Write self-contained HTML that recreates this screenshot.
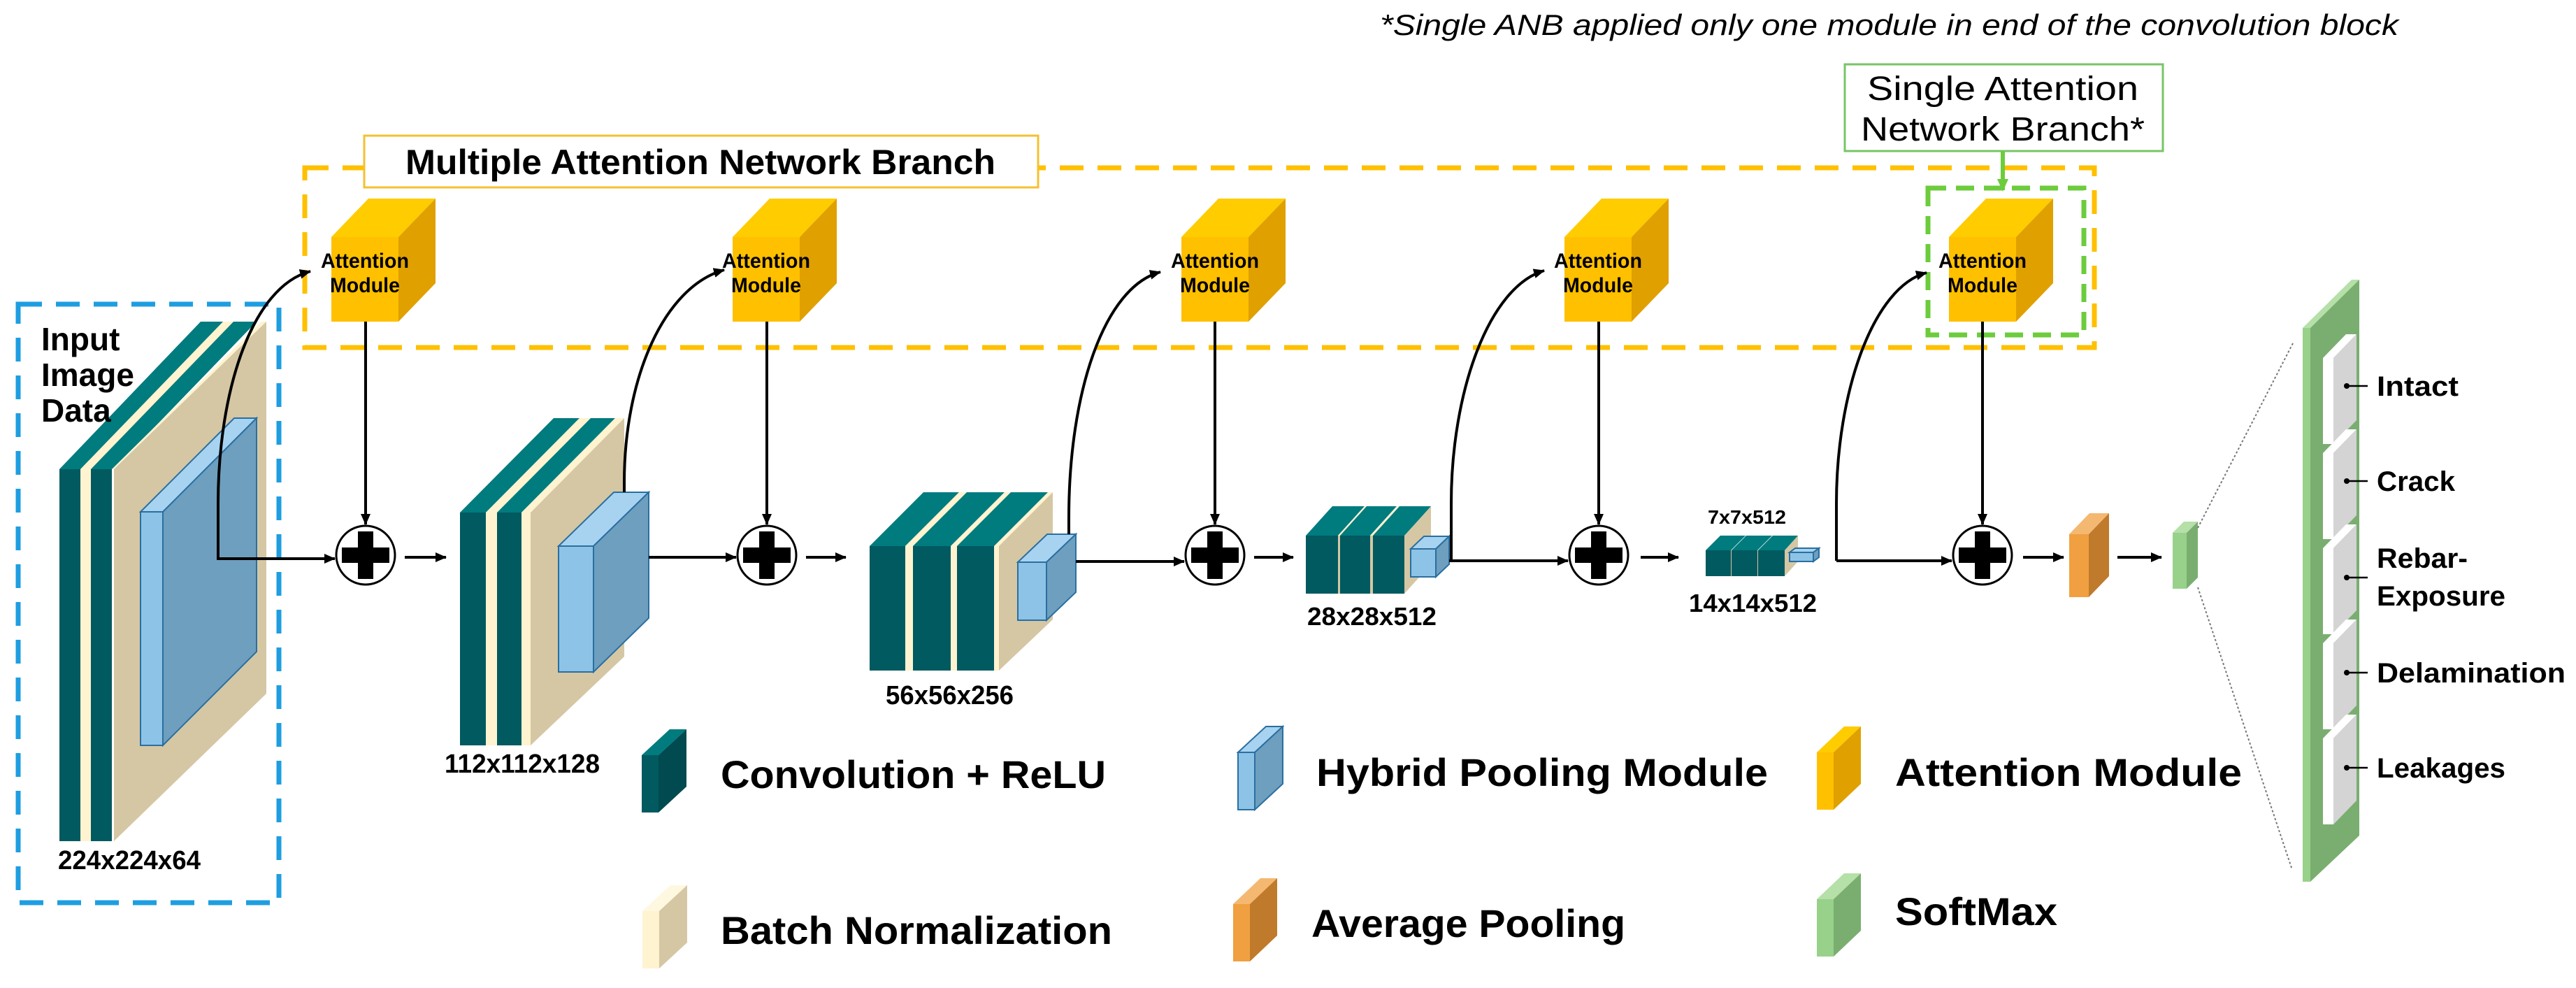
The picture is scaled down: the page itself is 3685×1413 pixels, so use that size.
<!DOCTYPE html>
<html><head><meta charset="utf-8"><style>
html,body{margin:0;padding:0;background:#fff;}
svg{display:block;}
text{font-family:"Liberation Sans",sans-serif;fill:#000;}
</style></head><body>
<svg width="3685" height="1413" viewBox="0 0 3685 1413" xmlns="http://www.w3.org/2000/svg">
<defs>
<marker id="ah2" markerWidth="16" markerHeight="14" refX="15" refY="7" orient="auto" markerUnits="userSpaceOnUse">
<path d="M0,0 L16,7 L0,14 z" fill="#000"/></marker>
<marker id="ahg" markerWidth="18" markerHeight="16" refX="16" refY="8" orient="auto" markerUnits="userSpaceOnUse">
<path d="M0,0 L18,8 L0,16 z" fill="#6ccc3c"/></marker>
</defs>

<text x="1974" y="50" font-size="42" font-style="italic" textLength="1457" lengthAdjust="spacingAndGlyphs">*Single ANB applied only one module in end of the convolution block</text>

<rect x="436" y="240" width="2560" height="257" fill="none" stroke="#ffc000" stroke-width="7" stroke-dasharray="34,20"/>
<rect x="521" y="194" width="964" height="74" fill="#fff" stroke="#f5c030" stroke-width="3"/>
<text x="580" y="249" font-size="50" font-weight="bold" textLength="844" lengthAdjust="spacingAndGlyphs">Multiple Attention Network Branch</text>

<rect x="2758" y="269" width="223" height="210" fill="none" stroke="#6ccc3c" stroke-width="7" stroke-dasharray="26,14"/>
<rect x="2639" y="92" width="455" height="124" fill="#fff" stroke="#77c566" stroke-width="3"/>
<text x="2671" y="143" font-size="48" textLength="388" lengthAdjust="spacingAndGlyphs">Single Attention</text>
<text x="2662" y="201" font-size="48" textLength="406" lengthAdjust="spacingAndGlyphs">Network Branch*</text>
<line x1="2865" y1="216" x2="2865" y2="272" stroke="#6ccc3c" stroke-width="6" marker-end="url(#ahg)"/>

<rect x="26" y="435" width="373" height="856" fill="none" stroke="#1e9ee0" stroke-width="7" stroke-dasharray="34,20"/>

<g>
<g transform="translate(474,0)">
<polygon points="0,339 96,339 149,284 53,284" fill="#ffcc00"/>
<polygon points="96,339 149,284 149,405 96,460" fill="#e0a000"/>
<rect x="0" y="339" width="96" height="121" fill="#ffc000"/>
<text x="48" y="383" font-size="30" font-weight="bold" text-anchor="middle" textLength="126" lengthAdjust="spacingAndGlyphs">Attention</text>
<text x="48" y="418" font-size="30" font-weight="bold" text-anchor="middle" textLength="100" lengthAdjust="spacingAndGlyphs">Module</text>
</g>
<g transform="translate(1048,0)">
<polygon points="0,339 96,339 149,284 53,284" fill="#ffcc00"/>
<polygon points="96,339 149,284 149,405 96,460" fill="#e0a000"/>
<rect x="0" y="339" width="96" height="121" fill="#ffc000"/>
<text x="48" y="383" font-size="30" font-weight="bold" text-anchor="middle" textLength="126" lengthAdjust="spacingAndGlyphs">Attention</text>
<text x="48" y="418" font-size="30" font-weight="bold" text-anchor="middle" textLength="100" lengthAdjust="spacingAndGlyphs">Module</text>
</g>
<g transform="translate(1690,0)">
<polygon points="0,339 96,339 149,284 53,284" fill="#ffcc00"/>
<polygon points="96,339 149,284 149,405 96,460" fill="#e0a000"/>
<rect x="0" y="339" width="96" height="121" fill="#ffc000"/>
<text x="48" y="383" font-size="30" font-weight="bold" text-anchor="middle" textLength="126" lengthAdjust="spacingAndGlyphs">Attention</text>
<text x="48" y="418" font-size="30" font-weight="bold" text-anchor="middle" textLength="100" lengthAdjust="spacingAndGlyphs">Module</text>
</g>
<g transform="translate(2238,0)">
<polygon points="0,339 96,339 149,284 53,284" fill="#ffcc00"/>
<polygon points="96,339 149,284 149,405 96,460" fill="#e0a000"/>
<rect x="0" y="339" width="96" height="121" fill="#ffc000"/>
<text x="48" y="383" font-size="30" font-weight="bold" text-anchor="middle" textLength="126" lengthAdjust="spacingAndGlyphs">Attention</text>
<text x="48" y="418" font-size="30" font-weight="bold" text-anchor="middle" textLength="100" lengthAdjust="spacingAndGlyphs">Module</text>
</g>
<g transform="translate(2788,0)">
<polygon points="0,339 96,339 149,284 53,284" fill="#ffcc00"/>
<polygon points="96,339 149,284 149,405 96,460" fill="#e0a000"/>
<rect x="0" y="339" width="96" height="121" fill="#ffc000"/>
<text x="48" y="383" font-size="30" font-weight="bold" text-anchor="middle" textLength="126" lengthAdjust="spacingAndGlyphs">Attention</text>
<text x="48" y="418" font-size="30" font-weight="bold" text-anchor="middle" textLength="100" lengthAdjust="spacingAndGlyphs">Module</text>
</g>
</g>

<g stroke="#000" stroke-width="4" fill="none" marker-end="url(#ah2)">
<line x1="523" y1="460" x2="523" y2="750"/>
<line x1="1097" y1="460" x2="1097" y2="750"/>
<line x1="1738" y1="460" x2="1738" y2="750"/>
<line x1="2287" y1="460" x2="2287" y2="750"/>
<line x1="2836" y1="460" x2="2836" y2="750"/>
</g>

<g>
<g transform="translate(523,794)"><circle r="42" fill="#fff" stroke="#000" stroke-width="3"/><rect x="-34" y="-11" width="68" height="22"/><rect x="-11" y="-34" width="22" height="68"/></g>
<g transform="translate(1097,794)"><circle r="42" fill="#fff" stroke="#000" stroke-width="3"/><rect x="-34" y="-11" width="68" height="22"/><rect x="-11" y="-34" width="22" height="68"/></g>
<g transform="translate(1738,794)"><circle r="42" fill="#fff" stroke="#000" stroke-width="3"/><rect x="-34" y="-11" width="68" height="22"/><rect x="-11" y="-34" width="22" height="68"/></g>
<g transform="translate(2287,794)"><circle r="42" fill="#fff" stroke="#000" stroke-width="3"/><rect x="-34" y="-11" width="68" height="22"/><rect x="-11" y="-34" width="22" height="68"/></g>
<g transform="translate(2836,794)"><circle r="42" fill="#fff" stroke="#000" stroke-width="3"/><rect x="-34" y="-11" width="68" height="22"/><rect x="-11" y="-34" width="22" height="68"/></g>
</g>

<g>
<polygon points="85,671 118,671 320,460 287,460" fill="#007b7e"/>
<rect x="85" y="671" width="30" height="532" fill="#005a60"/>
<polygon points="115,671 130,671 334,460 319,460" fill="#fff3d0"/>
<rect x="115" y="671" width="15" height="532" fill="#fff3d0"/>
<polygon points="130,671 163,671 367,460 334,460" fill="#007b7e"/>
<rect x="130" y="671" width="30" height="532" fill="#005a60"/>
<polygon points="160,671 168,671 381,460 374,460" fill="#fff3d0"/>
<polygon points="163,671 381,460 381,992 163,1203" fill="#d5c7a4"/>
<polygon points="201,732 233,732 367,598 335,598" fill="#a8d3f0" stroke="#2a6fa0" stroke-width="2"/>
<polygon points="233,732 367,598 367,932 233,1066" fill="#6e9fbf" stroke="#2a6fa0" stroke-width="2"/>
<rect x="201" y="732" width="32" height="334" fill="#8dc3e6" stroke="#2a6fa0" stroke-width="2"/>
</g>
<text x="59" y="501" font-size="46" font-weight="bold">Input</text>
<text x="59" y="552" font-size="46" font-weight="bold">Image</text>
<text x="59" y="603" font-size="46" font-weight="bold">Data</text>
<text x="83" y="1243" font-size="38" font-weight="bold" textLength="204" lengthAdjust="spacingAndGlyphs">224x224x64</text>

<g>
<polygon points="658,733 695,733 829,598 792,598" fill="#007b7e"/>
<rect x="658" y="733" width="37" height="333" fill="#005a60"/>
<polygon points="695,733 711,733 845,598 829,598" fill="#fff3d0"/>
<rect x="695" y="733" width="16" height="333" fill="#fff3d0"/>
<polygon points="711,733 746,733 880,598 845,598" fill="#007b7e"/>
<rect x="711" y="733" width="35" height="333" fill="#005a60"/>
<polygon points="746,733 759,733 893,598 880,598" fill="#fff3d0"/>
<rect x="746" y="733" width="13" height="333" fill="#fff3d0"/>
<polygon points="759,733 893,598 893,939 759,1066" fill="#d5c7a4"/>
<polygon points="799,781 849,781 928,704 878,704" fill="#a8d3f0" stroke="#2a6fa0" stroke-width="2"/>
<polygon points="849,781 928,704 928,884 849,961" fill="#6e9fbf" stroke="#2a6fa0" stroke-width="2"/>
<rect x="799" y="781" width="50" height="180" fill="#8dc3e6" stroke="#2a6fa0" stroke-width="2"/>
</g>
<text x="636" y="1105" font-size="38" font-weight="bold" textLength="222" lengthAdjust="spacingAndGlyphs">112x112x128</text>

<g>
<polygon points="1422,781 1429,781 1506,704 1499,704" fill="#fff3d0"/>
<polygon points="1429,781 1506,704 1506,886 1429,959" fill="#d5c7a4"/>
<rect x="1422" y="781" width="7" height="178" fill="#fff3d0"/>
<polygon points="1244,781 1295,781 1372,704 1321,704" fill="#007b7e"/>
<polygon points="1295,781 1306,781 1383,704 1372,704" fill="#fff3d0"/>
<polygon points="1306,781 1360,781 1437,704 1383,704" fill="#007b7e"/>
<polygon points="1360,781 1369,781 1446,704 1437,704" fill="#fff3d0"/>
<polygon points="1369,781 1422,781 1499,704 1446,704" fill="#007b7e"/>
<rect x="1244" y="781" width="51" height="178" fill="#005a60"/>
<rect x="1295" y="781" width="11" height="178" fill="#fff3d0"/>
<rect x="1306" y="781" width="54" height="178" fill="#005a60"/>
<rect x="1360" y="781" width="9" height="178" fill="#fff3d0"/>
<rect x="1369" y="781" width="53" height="178" fill="#005a60"/>
<polygon points="1456,804 1497,804 1539,764 1498,764" fill="#a8d3f0" stroke="#2a6fa0" stroke-width="2"/>
<polygon points="1497,804 1539,764 1539,847 1497,887" fill="#6e9fbf" stroke="#2a6fa0" stroke-width="2"/>
<rect x="1456" y="804" width="41" height="83" fill="#8dc3e6" stroke="#2a6fa0" stroke-width="2"/>
</g>
<text x="1267" y="1007" font-size="38" font-weight="bold" textLength="183" lengthAdjust="spacingAndGlyphs">56x56x256</text>

<g>
<polygon points="2009,766 2047,724 2047,807 2009,849" fill="#d5c7a4"/>
<polygon points="1868,766 1914,766 1952,724 1906,724" fill="#007b7e"/>
<polygon points="1914,766 1917,766 1955,724 1952,724" fill="#fff3d0"/>
<polygon points="1917,766 1960,766 1998,724 1955,724" fill="#007b7e"/>
<polygon points="1960,766 1964,766 2002,724 1998,724" fill="#fff3d0"/>
<polygon points="1964,766 2009,766 2047,724 2002,724" fill="#007b7e"/>
<rect x="1868" y="766" width="46" height="83" fill="#005a60"/>
<rect x="1914" y="766" width="3" height="83" fill="#d5c7a4"/>
<rect x="1917" y="766" width="43" height="83" fill="#005a60"/>
<rect x="1960" y="766" width="4" height="83" fill="#d5c7a4"/>
<rect x="1964" y="766" width="45" height="83" fill="#005a60"/>
<polygon points="2018,785 2054,785 2073,767 2037,767" fill="#a8d3f0" stroke="#2a6fa0" stroke-width="2"/>
<polygon points="2054,785 2073,767 2073,807 2054,825" fill="#6e9fbf" stroke="#2a6fa0" stroke-width="2"/>
<rect x="2018" y="785" width="36" height="40" fill="#8dc3e6" stroke="#2a6fa0" stroke-width="2"/>
</g>
<text x="1870" y="894" font-size="36" font-weight="bold" textLength="185" lengthAdjust="spacingAndGlyphs">28x28x512</text>

<g>
<polygon points="2553,787 2572,766 2572,803 2553,824" fill="#d5c7a4"/>
<polygon points="2440,787 2476,787 2497,766 2461,766" fill="#007b7e"/>
<polygon points="2477,787 2514,787 2535,766 2498,766" fill="#007b7e"/>
<polygon points="2515,787 2553,787 2572,766 2536,766" fill="#007b7e"/>
<rect x="2440" y="787" width="113" height="37" fill="#d5c7a4"/>
<rect x="2440" y="787" width="36" height="37" fill="#005a60"/>
<rect x="2477" y="787" width="37" height="37" fill="#005a60"/>
<rect x="2515" y="787" width="38" height="37" fill="#005a60"/>
<polygon points="2560,790 2594,790 2602,784 2568,784" fill="#a8d3f0" stroke="#2a6fa0" stroke-width="2"/>
<polygon points="2594,790 2602,784 2602,797 2594,803" fill="#6e9fbf" stroke="#2a6fa0" stroke-width="2"/>
<rect x="2560" y="790" width="34" height="13" fill="#8dc3e6" stroke="#2a6fa0" stroke-width="2"/>
</g>
<text x="2443" y="749" font-size="28" font-weight="bold" textLength="112" lengthAdjust="spacingAndGlyphs">7x7x512</text>
<text x="2416" y="875" font-size="36" font-weight="bold" textLength="183" lengthAdjust="spacingAndGlyphs">14x14x512</text>

<g stroke="#000" stroke-width="4" fill="none" marker-end="url(#ah2)">
<path d="M312,801 L312,720 C312,560 360,410 444,388"/>
<path d="M893,704 L893,690 C893,540 950,410 1036,386"/>
<path d="M1529,764 L1529,740 C1529,560 1580,410 1660,389"/>
<path d="M2076,802 L2076,720 C2076,560 2130,410 2209,387"/>
<path d="M2627,802 L2627,720 C2627,560 2680,410 2756,390"/>
</g>

<g stroke="#000" stroke-width="4" fill="none" marker-end="url(#ah2)">
<line x1="312" y1="799" x2="479" y2="799"/>
<line x1="579" y1="797" x2="638" y2="797"/>
<line x1="928" y1="797" x2="1053" y2="797"/>
<line x1="1153" y1="797" x2="1210" y2="797"/>
<line x1="1539" y1="803" x2="1694" y2="803"/>
<line x1="1794" y1="797" x2="1850" y2="797"/>
<line x1="2073" y1="802" x2="2243" y2="802"/>
<line x1="2347" y1="797" x2="2401" y2="797"/>
<line x1="2627" y1="802" x2="2792" y2="802"/>
<line x1="2894" y1="797" x2="2952" y2="797"/>
<line x1="3029" y1="797" x2="3092" y2="797"/>
</g>

<polygon points="2960,764 2988,764 3017,734 2989,734" fill="#f4b870"/>
<polygon points="2988,764 3017,734 3017,824 2988,854" fill="#c07a2c"/>
<rect x="2960" y="764" width="28" height="90" fill="#f0a040"/>
<polygon points="3108,762 3128,762 3144,746 3124,746" fill="#b5e0a8"/>
<polygon points="3128,762 3144,746 3144,826 3128,842" fill="#7aae70"/>
<rect x="3108" y="762" width="20" height="80" fill="#98d18a"/>

<line x1="3144" y1="755" x2="3281" y2="489" stroke="#777" stroke-width="2" stroke-dasharray="3,3"/>
<line x1="3144" y1="840" x2="3279" y2="1244" stroke="#777" stroke-width="2" stroke-dasharray="3,3"/>

<polygon points="3294,469 3305,469 3375,400 3364,400" fill="#b5e0a8"/>
<polygon points="3294,469 3305,469 3305,1261 3294,1261" fill="#98d18a"/>
<polygon points="3305,469 3375,400 3375,1195 3305,1261" fill="#7aae70"/>
<g>
<g transform="translate(0,0)"><polygon points="3323,512 3338,512 3371,478 3356,478" fill="#fff"/><rect x="3323" y="512" width="15" height="123" fill="#fff"/><polygon points="3338,512 3371,478 3371,601 3338,635" fill="#d4d4d4"/></g>
<g transform="translate(0,136)"><polygon points="3323,512 3338,512 3371,478 3356,478" fill="#fff"/><rect x="3323" y="512" width="15" height="123" fill="#fff"/><polygon points="3338,512 3371,478 3371,601 3338,635" fill="#d4d4d4"/></g>
<g transform="translate(0,272)"><polygon points="3323,512 3338,512 3371,478 3356,478" fill="#fff"/><rect x="3323" y="512" width="15" height="123" fill="#fff"/><polygon points="3338,512 3371,478 3371,601 3338,635" fill="#d4d4d4"/></g>
<g transform="translate(0,408)"><polygon points="3323,512 3338,512 3371,478 3356,478" fill="#fff"/><rect x="3323" y="512" width="15" height="123" fill="#fff"/><polygon points="3338,512 3371,478 3371,601 3338,635" fill="#d4d4d4"/></g>
<g transform="translate(0,544)"><polygon points="3323,512 3338,512 3371,478 3356,478" fill="#fff"/><rect x="3323" y="512" width="15" height="123" fill="#fff"/><polygon points="3338,512 3371,478 3371,601 3338,635" fill="#d4d4d4"/></g>
</g>
<g stroke="#000" stroke-width="2.5">
<line x1="3356" y1="552" x2="3387" y2="552"/>
<line x1="3356" y1="688" x2="3387" y2="688"/>
<line x1="3356" y1="826" x2="3387" y2="826"/>
<line x1="3356" y1="962" x2="3387" y2="962"/>
<line x1="3356" y1="1098" x2="3387" y2="1098"/>
</g>
<g fill="#000">
<circle cx="3357" cy="552" r="4"/><circle cx="3357" cy="688" r="4"/><circle cx="3357" cy="826" r="4"/><circle cx="3357" cy="962" r="4"/><circle cx="3357" cy="1098" r="4"/>
</g>
<g font-size="40" font-weight="bold">
<text x="3400" y="566" textLength="117" lengthAdjust="spacingAndGlyphs">Intact</text>
<text x="3400" y="702" textLength="112" lengthAdjust="spacingAndGlyphs">Crack</text>
<text x="3400" y="812" textLength="130" lengthAdjust="spacingAndGlyphs">Rebar-</text>
<text x="3400" y="866" textLength="184" lengthAdjust="spacingAndGlyphs">Exposure</text>
<text x="3400" y="976" textLength="270" lengthAdjust="spacingAndGlyphs">Delamination</text>
<text x="3400" y="1112" textLength="184" lengthAdjust="spacingAndGlyphs">Leakages</text>
</g>

<g font-weight="bold">
<polygon points="918,1080 942,1080 982,1043 958,1043" fill="#007b7e"/>
<polygon points="942,1080 982,1043 982,1125 942,1162" fill="#004a50"/>
<rect x="918" y="1080" width="24" height="82" fill="#005a60"/>
<text x="1031" y="1127" font-size="56" textLength="551" lengthAdjust="spacingAndGlyphs">Convolution + ReLU</text>

<polygon points="1771,1076 1795,1076 1835,1039 1811,1039" fill="#a8d3f0" stroke="#2a6fa0" stroke-width="2"/>
<polygon points="1795,1076 1835,1039 1835,1121 1795,1158" fill="#6e9fbf" stroke="#2a6fa0" stroke-width="2"/>
<rect x="1771" y="1076" width="24" height="82" fill="#8dc3e6" stroke="#2a6fa0" stroke-width="2"/>
<text x="1883" y="1124" font-size="56" textLength="646" lengthAdjust="spacingAndGlyphs">Hybrid Pooling Module</text>

<polygon points="2599,1076 2623,1076 2662,1039 2638,1039" fill="#ffcc00"/>
<polygon points="2623,1076 2662,1039 2662,1121 2623,1158" fill="#e0a000"/>
<rect x="2599" y="1076" width="24" height="82" fill="#ffc000"/>
<text x="2711" y="1124" font-size="56" textLength="496" lengthAdjust="spacingAndGlyphs">Attention Module</text>

<polygon points="919,1303 943,1303 983,1266 959,1266" fill="#fff8e0"/>
<polygon points="943,1303 983,1266 983,1348 943,1385" fill="#d5c7a4"/>
<rect x="919" y="1303" width="24" height="82" fill="#fff3d0"/>
<text x="1031" y="1350" font-size="56" textLength="560" lengthAdjust="spacingAndGlyphs">Batch Normalization</text>

<polygon points="1764,1293 1788,1293 1827,1256 1803,1256" fill="#f4b870"/>
<polygon points="1788,1293 1827,1256 1827,1338 1788,1375" fill="#c07a2c"/>
<rect x="1764" y="1293" width="24" height="82" fill="#f0a040"/>
<text x="1876" y="1340" font-size="56" textLength="449" lengthAdjust="spacingAndGlyphs">Average Pooling</text>

<polygon points="2599,1286 2623,1286 2662,1249 2638,1249" fill="#b5e0a8"/>
<polygon points="2623,1286 2662,1249 2662,1331 2623,1368" fill="#7aae70"/>
<rect x="2599" y="1286" width="24" height="82" fill="#98d18a"/>
<text x="2711" y="1323" font-size="56" textLength="232" lengthAdjust="spacingAndGlyphs">SoftMax</text>
</g>
</svg>
</body></html>
